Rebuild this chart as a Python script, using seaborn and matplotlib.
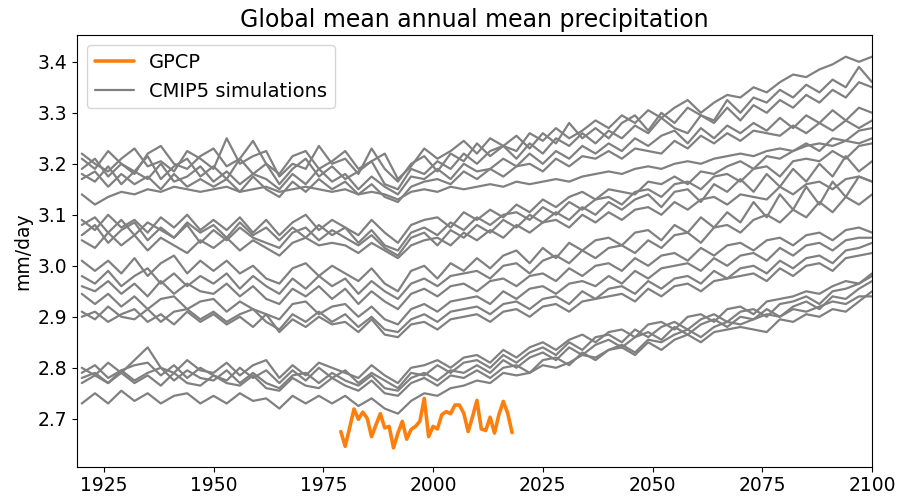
import pandas as pd
import seaborn as sns
import matplotlib.pyplot as plt
from matplotlib.lines import Line2D

# Model years (read every 3rd year off the chart)
years = list(range(1920, 2101, 3))

# GPCP observations, annual
gpcp_years = list(range(1979, 2019))
gpcp = [2.675, 2.646, 2.682, 2.719, 2.699, 2.713, 2.701, 2.665, 2.688, 2.710,
        2.682, 2.685, 2.643, 2.672, 2.695, 2.660, 2.679, 2.685, 2.695, 2.740,
        2.665, 2.685, 2.680, 2.708, 2.714, 2.710, 2.727, 2.727, 2.711, 2.675,
        2.704, 2.736, 2.680, 2.677, 2.703, 2.672, 2.708, 2.734, 2.711, 2.673]

# CMIP5 runs - top bundle
run_a1 = [3.21, 3.19, 3.225, 3.20, 3.18, 3.22, 3.235, 3.20, 3.19, 3.215,
          3.23, 3.195, 3.21, 3.245, 3.20, 3.18, 3.215, 3.225, 3.19, 3.205,
          3.225, 3.19, 3.205, 3.22, 3.17, 3.195, 3.23, 3.21, 3.225, 3.245,
          3.22, 3.25, 3.235, 3.225, 3.26, 3.245, 3.27, 3.25, 3.265, 3.285,
          3.27, 3.295, 3.28, 3.305, 3.29, 3.31, 3.325, 3.30, 3.32, 3.335,
          3.33, 3.35, 3.34, 3.36, 3.375, 3.37, 3.385, 3.395, 3.41, 3.40, 3.41]
run_a2 = [3.22, 3.20, 3.185, 3.21, 3.23, 3.195, 3.205, 3.185, 3.225, 3.21,
          3.19, 3.25, 3.20, 3.215, 3.225, 3.175, 3.20, 3.19, 3.235, 3.20,
          3.21, 3.18, 3.23, 3.19, 3.165, 3.20, 3.215, 3.185, 3.22, 3.205,
          3.24, 3.215, 3.235, 3.255, 3.23, 3.26, 3.24, 3.28, 3.25, 3.27,
          3.25, 3.28, 3.295, 3.265, 3.30, 3.28, 3.31, 3.295, 3.285, 3.325,
          3.30, 3.33, 3.32, 3.345, 3.33, 3.355, 3.34, 3.365, 3.35, 3.39, 3.36]
run_a3 = [3.19, 3.21, 3.175, 3.20, 3.185, 3.215, 3.17, 3.195, 3.21, 3.175,
          3.195, 3.17, 3.21, 3.18, 3.20, 3.16, 3.19, 3.21, 3.175, 3.195,
          3.17, 3.185, 3.205, 3.16, 3.15, 3.19, 3.18, 3.205, 3.19, 3.22,
          3.20, 3.225, 3.235, 3.21, 3.24, 3.22, 3.25, 3.235, 3.26, 3.24,
          3.265, 3.25, 3.275, 3.26, 3.29, 3.27, 3.26, 3.295, 3.28, 3.31,
          3.285, 3.315, 3.30, 3.325, 3.31, 3.335, 3.32, 3.345, 3.33, 3.36, 3.35]
run_a4 = [3.18, 3.165, 3.195, 3.16, 3.185, 3.17, 3.20, 3.165, 3.175, 3.195,
          3.165, 3.185, 3.16, 3.18, 3.17, 3.15, 3.18, 3.16, 3.19, 3.165,
          3.18, 3.15, 3.175, 3.155, 3.14, 3.175, 3.17, 3.19, 3.17, 3.20,
          3.185, 3.19, 3.21, 3.195, 3.22, 3.20, 3.225, 3.21, 3.235, 3.22,
          3.24, 3.225, 3.25, 3.235, 3.255, 3.265, 3.24, 3.27, 3.25, 3.275,
          3.26, 3.28, 3.265, 3.29, 3.27, 3.295, 3.28, 3.305, 3.285, 3.31, 3.30]
run_a5 = [3.17, 3.185, 3.155, 3.18, 3.16, 3.175, 3.15, 3.18, 3.155, 3.17,
          3.155, 3.17, 3.145, 3.175, 3.15, 3.135, 3.165, 3.145, 3.17, 3.15,
          3.165, 3.14, 3.16, 3.135, 3.125, 3.155, 3.165, 3.17, 3.16, 3.185,
          3.17, 3.19, 3.175, 3.195, 3.20, 3.185, 3.21, 3.195, 3.215, 3.21,
          3.225, 3.21, 3.23, 3.225, 3.22, 3.245, 3.23, 3.255, 3.24, 3.26,
          3.245, 3.265, 3.26, 3.255, 3.275, 3.26, 3.28, 3.265, 3.285, 3.27, 3.285]
run_a6 = [3.14, 3.12, 3.135, 3.145, 3.14, 3.15, 3.145, 3.155, 3.15, 3.145,
          3.15, 3.155, 3.145, 3.15, 3.155, 3.145, 3.15, 3.155, 3.15, 3.145,
          3.15, 3.14, 3.145, 3.14, 3.13, 3.145, 3.15, 3.145, 3.155, 3.15,
          3.155, 3.16, 3.155, 3.165, 3.16, 3.165, 3.17, 3.165, 3.175, 3.18,
          3.185, 3.18, 3.19, 3.195, 3.19, 3.20, 3.205, 3.20, 3.21, 3.215,
          3.22, 3.215, 3.225, 3.23, 3.225, 3.235, 3.24, 3.235, 3.245, 3.24, 3.25]

# second bundle
run_b1 = [3.09, 3.07, 3.10, 3.075, 3.09, 3.065, 3.095, 3.075, 3.10, 3.07,
          3.09, 3.07, 3.095, 3.065, 3.09, 3.06, 3.085, 3.10, 3.07, 3.09,
          3.075, 3.06, 3.09, 3.065, 3.045, 3.08, 3.09, 3.095, 3.075, 3.105,
          3.09, 3.11, 3.095, 3.12, 3.105, 3.13, 3.115, 3.135, 3.145, 3.13,
          3.15, 3.145, 3.14, 3.165, 3.16, 3.175, 3.16, 3.185, 3.18, 3.195,
          3.205, 3.19, 3.215, 3.21, 3.225, 3.24, 3.225, 3.25, 3.245, 3.265, 3.27]
run_b2 = [3.08, 3.095, 3.065, 3.09, 3.06, 3.085, 3.07, 3.055, 3.085, 3.065,
          3.08, 3.055, 3.085, 3.06, 3.075, 3.05, 3.075, 3.055, 3.08, 3.06,
          3.075, 3.045, 3.07, 3.04, 3.03, 3.065, 3.075, 3.06, 3.085, 3.07,
          3.095, 3.08, 3.10, 3.105, 3.09, 3.115, 3.10, 3.125, 3.11, 3.13,
          3.135, 3.12, 3.145, 3.15, 3.135, 3.16, 3.165, 3.15, 3.175, 3.18,
          3.165, 3.19, 3.195, 3.175, 3.205, 3.21, 3.205, 3.225, 3.21, 3.235, 3.24]
run_b3 = [3.06, 3.08, 3.045, 3.07, 3.085, 3.05, 3.075, 3.055, 3.08, 3.045,
          3.07, 3.05, 3.075, 3.055, 3.045, 3.035, 3.065, 3.075, 3.05, 3.07,
          3.055, 3.04, 3.06, 3.035, 3.02, 3.055, 3.065, 3.04, 3.07, 3.055,
          3.08, 3.065, 3.09, 3.075, 3.10, 3.085, 3.105, 3.09, 3.115, 3.10,
          3.125, 3.11, 3.13, 3.14, 3.115, 3.145, 3.15, 3.125, 3.16, 3.145,
          3.17, 3.145, 3.18, 3.155, 3.19, 3.165, 3.20, 3.175, 3.215, 3.185, 3.205]
run_b4 = [3.05, 3.035, 3.065, 3.04, 3.06, 3.03, 3.055, 3.04, 3.025, 3.05,
          3.035, 3.055, 3.03, 3.05, 3.035, 3.02, 3.045, 3.055, 3.04, 3.045,
          3.04, 3.025, 3.045, 3.03, 3.015, 3.04, 3.05, 3.055, 3.04, 3.065,
          3.05, 3.07, 3.055, 3.08, 3.065, 3.085, 3.09, 3.075, 3.10, 3.085,
          3.105, 3.09, 3.11, 3.115, 3.10, 3.125, 3.11, 3.13, 3.135, 3.12,
          3.14, 3.135, 3.13, 3.155, 3.14, 3.16, 3.165, 3.15, 3.17, 3.175, 3.165]

# third bundle
run_c1 = [3.01, 2.99, 3.01, 2.985, 3.015, 2.98, 3.005, 3.02, 2.985, 3.01,
          2.99, 3.01, 2.985, 3.00, 2.975, 2.965, 2.995, 3.005, 2.98, 3.00,
          2.985, 2.97, 2.995, 2.965, 2.95, 2.99, 3.00, 2.975, 3.005, 2.99,
          3.015, 2.995, 3.02, 3.03, 3.005, 3.035, 3.015, 3.045, 3.03, 3.05,
          3.055, 3.04, 3.065, 3.07, 3.05, 3.08, 3.065, 3.095, 3.075, 3.105,
          3.085, 3.125, 3.095, 3.14, 3.11, 3.155, 3.12, 3.165, 3.135, 3.175, 3.165]
run_c2 = [2.98, 2.965, 2.99, 2.96, 2.98, 2.995, 2.965, 2.985, 2.96, 2.98,
          2.965, 2.985, 2.955, 2.98, 2.96, 2.945, 2.975, 2.955, 2.98, 2.96,
          2.975, 2.945, 2.97, 2.95, 2.935, 2.965, 2.975, 2.96, 2.98, 2.985,
          2.99, 2.975, 3.00, 3.005, 2.985, 3.01, 3.02, 3.005, 3.03, 3.015,
          3.035, 3.04, 3.025, 3.05, 3.035, 3.06, 3.065, 3.045, 3.075, 3.08,
          3.065, 3.09, 3.10, 3.085, 3.11, 3.095, 3.125, 3.105, 3.135, 3.12, 3.14]
run_c3 = [2.96, 2.95, 2.97, 2.945, 2.965, 2.94, 2.97, 2.945, 2.965, 2.95,
          2.945, 2.965, 2.94, 2.96, 2.935, 2.925, 2.955, 2.94, 2.96, 2.935,
          2.955, 2.925, 2.95, 2.93, 2.915, 2.945, 2.955, 2.94, 2.96, 2.965,
          2.95, 2.97, 2.975, 2.96, 2.98, 2.985, 2.97, 2.995, 2.98, 3.00,
          3.005, 2.99, 3.015, 3.00, 3.02, 3.025, 3.01, 3.035, 3.02, 3.04,
          3.045, 3.03, 3.05, 3.055, 3.04, 3.06, 3.065, 3.05, 3.07, 3.075, 3.065]
run_c4 = [2.945, 2.925, 2.945, 2.92, 2.94, 2.915, 2.935, 2.94, 2.915, 2.93,
          2.935, 2.91, 2.93, 2.915, 2.905, 2.895, 2.925, 2.93, 2.905, 2.92,
          2.925, 2.90, 2.92, 2.895, 2.885, 2.915, 2.925, 2.91, 2.93, 2.935,
          2.94, 2.925, 2.95, 2.935, 2.955, 2.96, 2.945, 2.965, 2.97, 2.96,
          2.98, 2.965, 2.99, 2.975, 2.995, 3.00, 3.005, 2.99, 3.015, 3.00,
          3.02, 3.025, 3.01, 3.035, 3.02, 3.04, 3.045, 3.03, 3.05, 3.055, 3.055]
run_d1 = [2.91, 2.895, 2.92, 2.90, 2.895, 2.915, 2.89, 2.91, 2.915, 2.895,
          2.91, 2.89, 2.905, 2.915, 2.89, 2.875, 2.905, 2.89, 2.91, 2.89,
          2.905, 2.88, 2.90, 2.875, 2.87, 2.895, 2.905, 2.89, 2.91, 2.915,
          2.92, 2.905, 2.925, 2.93, 2.915, 2.935, 2.94, 2.925, 2.95, 2.935,
          2.955, 2.96, 2.945, 2.97, 2.955, 2.975, 2.98, 2.965, 2.99, 2.975,
          2.995, 3.00, 2.985, 3.01, 2.995, 3.015, 3.02, 3.005, 3.03, 3.035, 3.045]
run_d2 = [2.90, 2.91, 2.89, 2.905, 2.915, 2.89, 2.905, 2.885, 2.91, 2.89,
          2.905, 2.885, 2.90, 2.88, 2.905, 2.87, 2.895, 2.88, 2.90, 2.885,
          2.89, 2.87, 2.895, 2.865, 2.86, 2.885, 2.89, 2.875, 2.895, 2.90,
          2.905, 2.89, 2.91, 2.915, 2.90, 2.92, 2.925, 2.91, 2.93, 2.935,
          2.94, 2.945, 2.93, 2.955, 2.94, 2.96, 2.965, 2.95, 2.97, 2.975,
          2.98, 2.985, 2.97, 2.995, 2.98, 3.00, 3.005, 2.99, 3.015, 3.02, 3.025]

# bottom bundle
run_e1 = [2.80, 2.785, 2.81, 2.79, 2.815, 2.84, 2.80, 2.79, 2.815, 2.795,
          2.79, 2.81, 2.785, 2.805, 2.815, 2.78, 2.805, 2.785, 2.81, 2.80,
          2.79, 2.78, 2.805, 2.785, 2.77, 2.80, 2.805, 2.815, 2.80, 2.82,
          2.825, 2.81, 2.835, 2.82, 2.84, 2.85, 2.835, 2.855, 2.865, 2.85,
          2.87, 2.875, 2.86, 2.885, 2.89, 2.875, 2.90, 2.905, 2.89, 2.915,
          2.92, 2.905, 2.93, 2.935, 2.94, 2.95, 2.945, 2.96, 2.97, 2.965, 2.985]
run_e2 = [2.79, 2.805, 2.78, 2.795, 2.805, 2.81, 2.785, 2.805, 2.78, 2.80,
          2.785, 2.775, 2.80, 2.78, 2.795, 2.77, 2.795, 2.775, 2.80, 2.78,
          2.795, 2.77, 2.79, 2.775, 2.76, 2.79, 2.785, 2.805, 2.79, 2.81,
          2.815, 2.80, 2.825, 2.81, 2.83, 2.84, 2.825, 2.85, 2.835, 2.86,
          2.865, 2.85, 2.875, 2.86, 2.88, 2.89, 2.875, 2.895, 2.905, 2.89,
          2.91, 2.915, 2.90, 2.925, 2.93, 2.94, 2.925, 2.95, 2.955, 2.965, 2.98]
run_e3 = [2.78, 2.79, 2.77, 2.795, 2.775, 2.79, 2.80, 2.775, 2.795, 2.78,
          2.775, 2.795, 2.77, 2.79, 2.77, 2.76, 2.785, 2.79, 2.77, 2.79,
          2.775, 2.765, 2.785, 2.76, 2.755, 2.78, 2.79, 2.775, 2.795, 2.79,
          2.805, 2.79, 2.815, 2.80, 2.82, 2.83, 2.815, 2.84, 2.825, 2.845,
          2.855, 2.84, 2.86, 2.87, 2.855, 2.88, 2.865, 2.885, 2.895, 2.88,
          2.90, 2.895, 2.915, 2.90, 2.92, 2.93, 2.915, 2.94, 2.935, 2.955, 2.97]
run_e4 = [2.77, 2.785, 2.77, 2.79, 2.77, 2.785, 2.765, 2.79, 2.77, 2.765,
          2.785, 2.77, 2.765, 2.785, 2.76, 2.755, 2.78, 2.765, 2.76, 2.78,
          2.765, 2.755, 2.775, 2.75, 2.745, 2.77, 2.78, 2.765, 2.785, 2.78,
          2.795, 2.78, 2.80, 2.805, 2.79, 2.815, 2.82, 2.805, 2.83, 2.815,
          2.835, 2.84, 2.825, 2.85, 2.835, 2.855, 2.865, 2.85, 2.87, 2.875,
          2.88, 2.875, 2.87, 2.895, 2.89, 2.905, 2.90, 2.915, 2.91, 2.93, 2.95]
run_f1 = [2.73, 2.75, 2.73, 2.755, 2.735, 2.75, 2.73, 2.745, 2.75, 2.73,
          2.745, 2.73, 2.75, 2.735, 2.74, 2.72, 2.745, 2.73, 2.745, 2.73,
          2.745, 2.725, 2.74, 2.72, 2.71, 2.735, 2.75, 2.745, 2.76, 2.765,
          2.775, 2.77, 2.79, 2.785, 2.79, 2.805, 2.80, 2.81, 2.825, 2.82,
          2.835, 2.845, 2.83, 2.855, 2.85, 2.865, 2.875, 2.86, 2.88, 2.89,
          2.885, 2.895, 2.905, 2.90, 2.915, 2.91, 2.92, 2.93, 2.925, 2.94, 2.94]

runs = {'a1': run_a1, 'a2': run_a2, 'a3': run_a3, 'a4': run_a4, 'a5': run_a5,
        'a6': run_a6, 'b1': run_b1, 'b2': run_b2, 'b3': run_b3, 'b4': run_b4,
        'c1': run_c1, 'c2': run_c2, 'c3': run_c3, 'c4': run_c4, 'd1': run_d1,
        'd2': run_d2, 'e1': run_e1, 'e2': run_e2, 'e3': run_e3, 'e4': run_e4,
        'f1': run_f1}

# long table for seaborn
rows = []
for name, vals in runs.items():
    assert len(vals) == len(years), name
    for yr, v in zip(years, vals):
        rows.append((name, yr, v))
df = pd.DataFrame(rows, columns=['run', 'year', 'precip'])

sns.set_style('ticks', {'axes.edgecolor': 'black', 'xtick.color': 'black',
                        'ytick.color': 'black', 'text.color': 'black',
                        'axes.labelcolor': 'black'})
fig, ax = plt.subplots(figsize=(9, 5.04), dpi=100)
fig.subplots_adjust(left=0.086, right=0.969, top=0.93, bottom=0.074)

sns.lineplot(data=df, x='year', y='precip', units='run', estimator=None,
             color='grey', lw=1.6, ax=ax)
sns.lineplot(x=gpcp_years, y=gpcp, color='#ff7f0e', lw=2.6, ax=ax)

ax.set_xlim(1919, 2100)
ax.set_ylim(2.606, 3.452)
ax.set_title('Global mean annual mean precipitation', fontsize=17)
ax.set_xlabel('')
ax.set_ylabel('mm/day', fontsize=13.5)
ax.tick_params(labelsize=13.5)

handles = [Line2D([], [], color='#ff7f0e', lw=2.6, label='GPCP'),
           Line2D([], [], color='grey', lw=1.6, label='CMIP5 simulations')]
ax.legend(handles=handles, loc='upper left', fontsize=14)

fig.savefig('out.png', dpi=100)
